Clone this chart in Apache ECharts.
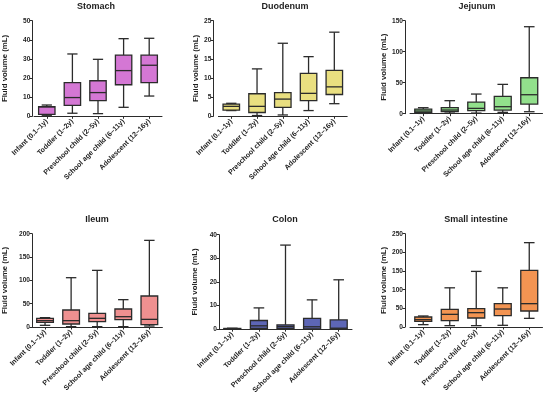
<!DOCTYPE html>
<html><head><meta charset="utf-8">
<script src="https://cdn.jsdelivr.net/npm/echarts@6/dist/echarts.min.js"></script>
<style>html,body{margin:0;padding:0;background:#fff}#c{width:550px;height:396px}</style>
</head><body><div id="c"></div>
<script>
// Categories (age groups)
var categories = ['Infant (0.1–1y)', 'Toddler (1–2y)', 'Preschool child (2–5y)', 'School age child (6–11y)', 'Adolescent (12–16y)'];
var panelTitles = ['Stomach', 'Duodenum', 'Jejunum', 'Ileum', 'Colon', 'Small intestine'];
// Each row: [min, Q1, median, Q3, max] in mL
var stomach = [[0.3, 1.0, 5.0, 5.0, 5.9], [1.6, 5.7, 9.8, 17.6, 32.6], [1.4, 8.2, 12.4, 18.6, 29.8], [4.7, 16.5, 23.9, 32.0, 40.6], [10.6, 17.6, 26.7, 32.0, 40.8]];
var duodenum = [[1.5, 1.6, 2.6, 3.2, 3.4], [0.2, 1.0, 2.6, 5.9, 12.4], [0.35, 2.35, 4.5, 6.2, 19.1], [1.5, 4.1, 6.0, 11.2, 15.6], [3.3, 5.7, 7.7, 12.0, 22.0]];
var jejunum = [[0.5, 2.2, 4.3, 7.5, 9.7], [1.0, 3.2, 5.9, 9.7, 21.0], [1.0, 4.8, 8.6, 18.8, 31.7], [2.2, 5.9, 11.3, 28.0, 47.3], [3.2, 15.6, 30.6, 58.0, 140.3]];
var ileum = [[3.6, 10.0, 13.6, 18.6, 20.0], [0.7, 6.4, 13.6, 36.4, 105.7], [0.7, 11.4, 18.6, 29.3, 121.4], [0.7, 15.7, 22.1, 38.6, 58.6], [2.1, 5.0, 16.4, 66.4, 185.7]];
var colon = [[0.0, 0.1, 0.2, 0.3, 0.4], [0.1, 0.3, 1.4, 3.65, 9.0], [0.0, 0.3, 1.1, 1.8, 35.6], [0.0, 0.1, 1.0, 4.6, 12.4], [0.0, 0.1, 0.4, 3.9, 20.9]];
var smallIntestine = [[6.3, 15.2, 19.6, 26.8, 29.5], [3.6, 17.0, 33.9, 47.3, 105.0], [3.6, 24.1, 38.4, 49.0, 149.0], [4.5, 30.4, 48.2, 62.5, 105.0], [23.2, 42.9, 62.5, 151.8, 226.0]];
var yMax = [50, 25, 150, 200, 40, 250];
var yInterval = [10, 5, 50, 50, 10, 50];

var panelData = [stomach, duodenum, jejunum, ileum, colon, smallIntestine];
var fills = ['#d477d4', '#e9df80', '#92e08c', '#ef9090', '#5d66b6', '#f39452'];
var grids = [
  {left: 34, top: 20.7, width: 128, height: 95.6, off: 1.7, gap: 23, tx: 96, ty: 2},
  {left: 218.4, top: 20.7, width: 128.8, height: 95.6, off: 5, gap: 14, tx: 285, ty: 2},
  {left: 410, top: 20.7, width: 132.5, height: 93, off: 5, gap: 17, tx: 477, ty: 2},
  {left: 32, top: 233.7, width: 130.4, height: 93.3, off: 0, gap: 23, tx: 97, ty: 215},
  {left: 219, top: 234.7, width: 133, height: 95, off: 0, gap: 20, tx: 285, ty: 215},
  {left: 410, top: 233.7, width: 132.5, height: 93.3, off: 5, gap: 17, tx: 476, ty: 215}
];
var ink = '#2b2b2b';
var txt = '#1e1e1e';
var font = 'Liberation Sans, Arial, sans-serif';

function makeRender(fill) {
  return function (params, api) {
    var i = api.value(0);
    var pMin = api.coord([i, api.value(1)]);
    var pQ1 = api.coord([i, api.value(2)]);
    var pMed = api.coord([i, api.value(3)]);
    var pQ3 = api.coord([i, api.value(4)]);
    var pMax = api.coord([i, api.value(5)]);
    var band = api.size([1, 0])[0];
    var bw = band * 0.64, cw = band * 0.4;
    var x = pMin[0];
    var ls = {stroke: ink, lineWidth: 1.3};
    return {type: 'group', children: [
      {type: 'line', shape: {x1: x, y1: pMax[1], x2: x, y2: pQ3[1]}, style: ls},
      {type: 'line', shape: {x1: x, y1: pQ1[1], x2: x, y2: pMin[1]}, style: ls},
      {type: 'line', shape: {x1: x - cw / 2, y1: pMax[1], x2: x + cw / 2, y2: pMax[1]}, style: ls},
      {type: 'line', shape: {x1: x - cw / 2, y1: pMin[1], x2: x + cw / 2, y2: pMin[1]}, style: ls},
      {type: 'rect', shape: {x: x - bw / 2, y: pQ3[1], width: bw, height: Math.max(pQ1[1] - pQ3[1], 0.5)}, style: {fill: fill, stroke: ink, lineWidth: 1.3}},
      {type: 'line', shape: {x1: x - bw / 2, y1: pMed[1], x2: x + bw / 2, y2: pMed[1]}, style: ls}
    ]};
  };
}

var option = {animation: false, backgroundColor: '#fff', title: [], grid: [], xAxis: [], yAxis: [], series: []};
panelData.forEach(function (d, k) {
  var g = grids[k];
  option.title.push({text: panelTitles[k], left: g.tx, top: g.ty, textAlign: 'center', padding: 0,
    textStyle: {fontFamily: font, fontSize: 9, fontWeight: 'bold', color: txt}});
  option.grid.push({left: g.left, top: g.top, width: g.width, height: g.height, containLabel: false});
  option.xAxis.push({type: 'category', gridIndex: k, data: categories, boundaryGap: true,
    axisLine: {lineStyle: {color: ink, width: 1}},
    axisTick: {show: true, alignWithLabel: true, length: 2.5, lineStyle: {color: ink}},
    axisLabel: {interval: 0, rotate: 45, margin: 4, fontSize: 7.1, fontWeight: 'bold', fontFamily: font, color: txt},
    splitLine: {show: false}});
  option.yAxis.push({type: 'value', gridIndex: k, min: 0, max: yMax[k], interval: yInterval[k], offset: g.off,
    name: 'Fluid volume (mL)', nameLocation: 'middle', nameGap: g.gap,
    nameTextStyle: {fontFamily: font, fontSize: 7.8, fontWeight: 'bold', color: txt},
    axisLine: {show: true, lineStyle: {color: ink, width: 1}},
    axisTick: {show: true, length: 2.5, lineStyle: {color: ink}},
    axisLabel: {margin: 2, fontSize: 6.6, fontWeight: 'bold', fontFamily: font, color: txt},
    splitLine: {show: false}});
  option.series.push({type: 'custom', xAxisIndex: k, yAxisIndex: k,
    renderItem: makeRender(fills[k]),
    encode: {x: 0, y: [1, 2, 3, 4, 5]},
    data: d.map(function (r, i) { return [i].concat(r); })});
});

var chart = echarts.init(document.getElementById('c'), null, {renderer: 'canvas'});
chart.setOption(option);
</script>
</body></html>
